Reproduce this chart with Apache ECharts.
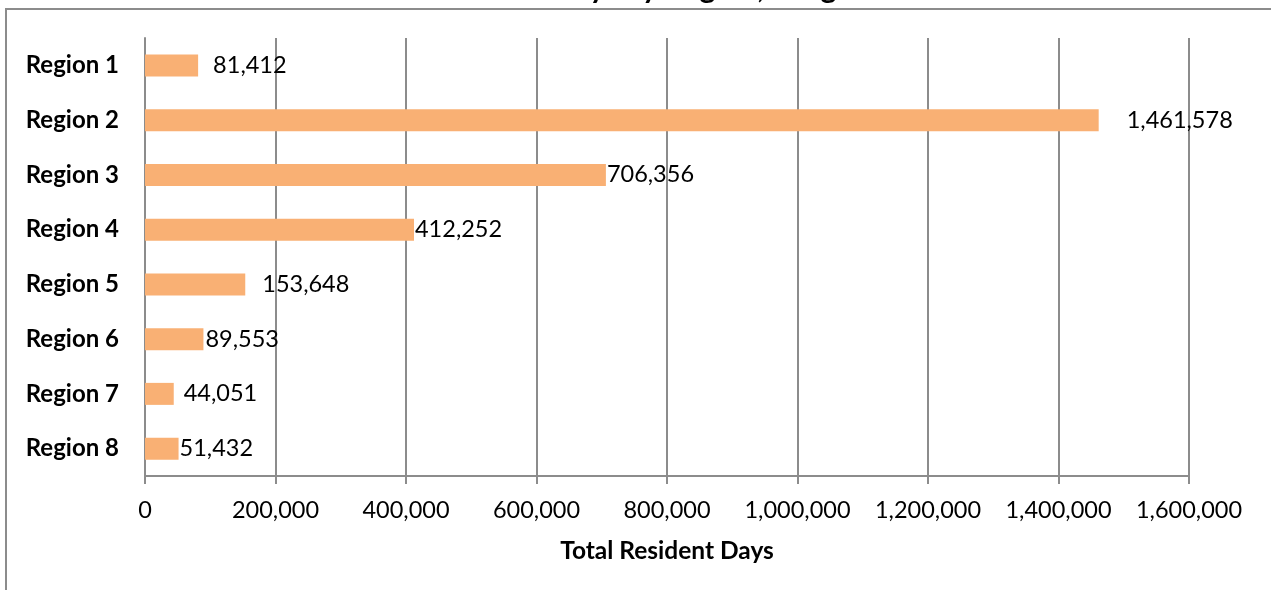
<!DOCTYPE html>
<html>
<head>
<meta charset="utf-8">
<script src="https://cdn.jsdelivr.net/npm/echarts@6/dist/echarts.min.js"></script>
<style>
  html, body { margin: 0; padding: 0; background: #ffffff; }
  #chart { width: 1271px; height: 590px; }
</style>
</head>
<body>
<div id="chart"></div>
<script>
// Regions and their total resident days
const regions = ['Region 1', 'Region 2', 'Region 3', 'Region 4', 'Region 5', 'Region 6', 'Region 7', 'Region 8'];
const residentDays = [81412, 1461578, 706356, 412252, 153648, 89553, 44051, 51432];

// Gap between each bar end and its value label (px)
const labelGap = [15, 28, 1, 1, 17, 2, 10, 1];

const FONT = 'Lato, "Open Sans", sans-serif';
const GRID = '#8c8c8c';
const fmt = v => Number(v).toLocaleString('en-US');

const chart = echarts.init(document.getElementById('chart'), null, { renderer: 'canvas' });

chart.setOption({
  animation: false,
  backgroundColor: '#ffffff',
  title: {
    text: 'Total Resident Days by Region, Long-Term Care',
    left: 664,
    top: -32,
    textAlign: 'center',
    textStyle: { fontFamily: FONT, fontSize: 30, fontWeight: 'bold', color: '#000000' }
  },
  graphic: [{
    type: 'rect',
    shape: { x: 6, y: 9, width: 1400, height: 700 },
    style: { fill: 'none', stroke: GRID, lineWidth: 2 },
    silent: true,
    z: -1
  }],
  grid: { left: 145, right: 82, top: 38, bottom: 114, containLabel: false },
  xAxis: {
    type: 'value',
    min: 0,
    max: 1600000,
    interval: 200000,
    name: 'Total Resident Days',
    nameLocation: 'middle',
    nameGap: 63,
    nameTextStyle: { fontFamily: FONT, fontSize: 24.5, fontWeight: 'bold', color: '#000000' },
    axisLine: { show: true, lineStyle: { color: GRID, width: 2 } },
    axisTick: { show: true, length: 8, lineStyle: { color: GRID, width: 2 } },
    axisLabel: { margin: 22, fontFamily: FONT, fontSize: 23.5, color: '#000000', formatter: fmt },
    splitLine: { show: true, lineStyle: { color: GRID, width: 2 } }
  },
  yAxis: {
    type: 'category',
    inverse: true,
    data: regions,
    axisLine: { show: true, lineStyle: { color: GRID, width: 2 } },
    axisTick: { show: false },
    axisLabel: { margin: 26, fontFamily: FONT, fontSize: 24, fontWeight: 'bold', color: '#000000' }
  },
  series: [{
    type: 'bar',
    barWidth: 22,
    itemStyle: { color: '#F9B074' },
    data: residentDays.map((v, i) => ({
      value: v,
      label: { distance: labelGap[i] }
    })),
    label: {
      show: true,
      position: 'right',
      fontFamily: FONT,
      fontSize: 23.5,
      color: '#000000',
      formatter: p => fmt(p.value)
    }
  }]
});
</script>
</body>
</html>
